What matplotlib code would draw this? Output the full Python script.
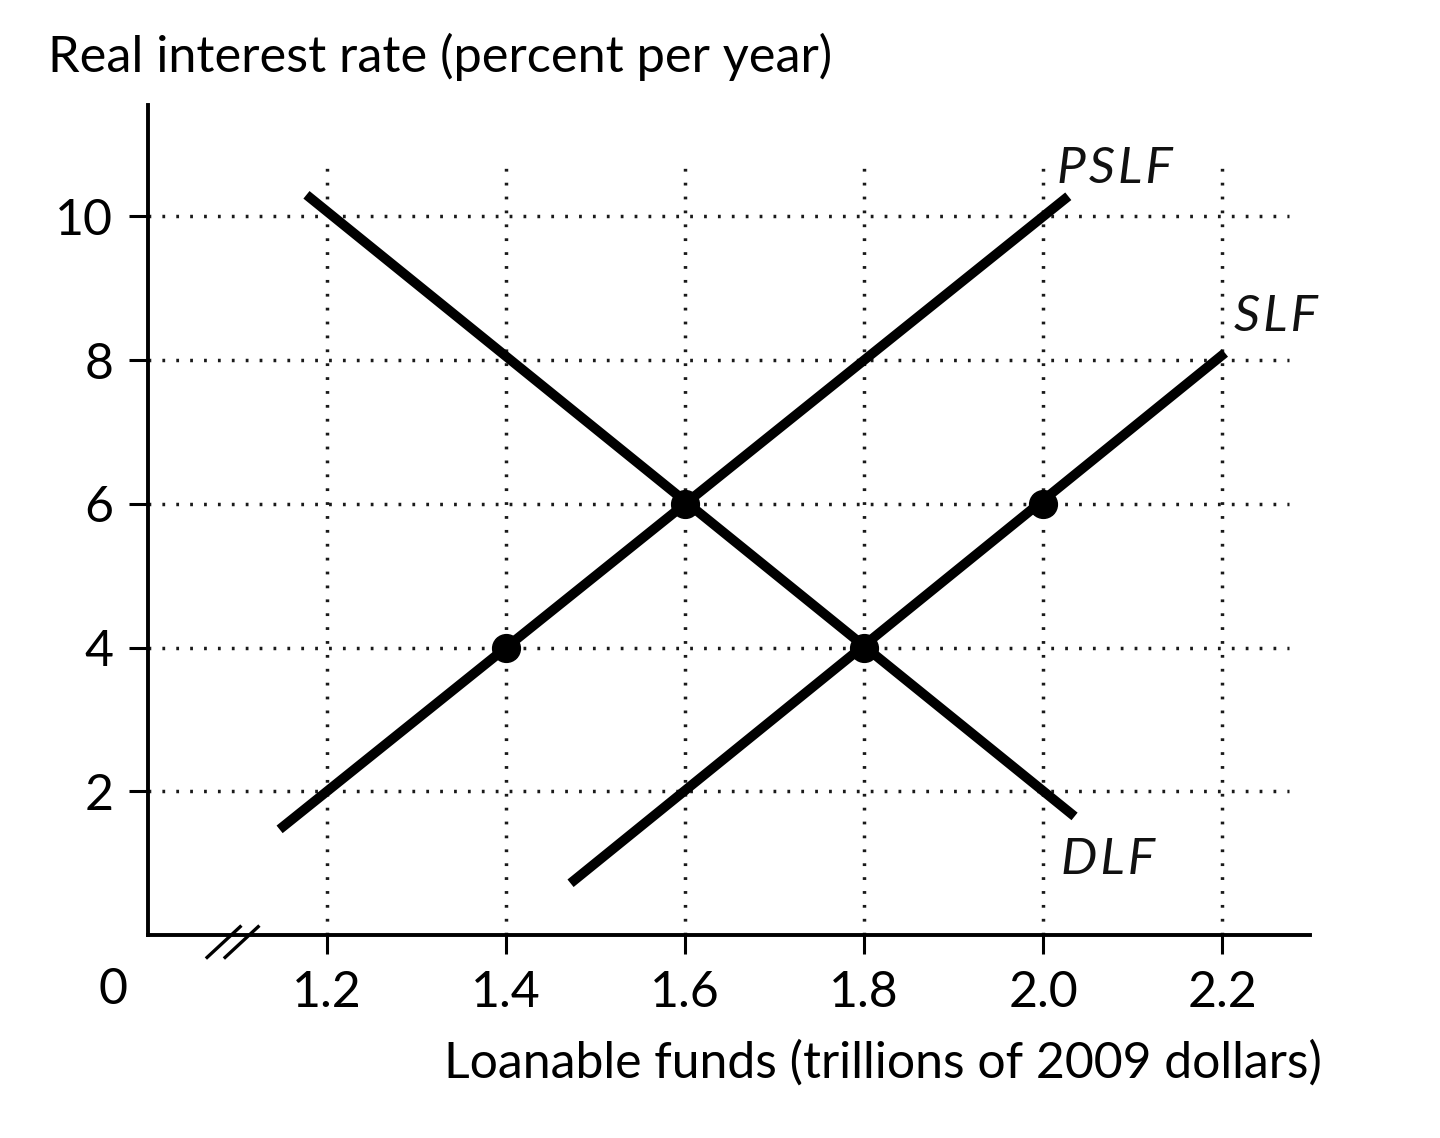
import matplotlib
matplotlib.use("Agg")
from matplotlib import pyplot as plt
from matplotlib import transforms
import numpy as np

plt.rcParams['font.family'] = ['Lato', 'DejaVu Sans']

# data
x_ticks = [1.2, 1.4, 1.6, 1.8, 2.0, 2.2]
x_ticklabels = ["1.2", "1.4", "1.6", "1.8", "2.0", "2.2"]
y_ticks = [2, 4, 6, 8, 10]
y_ticklabels = ["2", "4", "6", "8", "10"]

dlf_x = [1.177, 2.035]
dlf_y = [10.3, 1.65]
pslf_x = [1.147, 2.028]
pslf_y = [1.47, 10.28]
slf_x = [1.472, 2.203]
slf_y = [0.72, 8.1]

pts_x = [1.4, 1.6, 1.8, 2.0]
pts_y = [4, 6, 4, 6]

fig = plt.figure(figsize=(14.4, 11.38), dpi=100)
ax = fig.add_axes([148/1440, 203/1138, 1162/1440, 830/1138])
ax.set_xlim(1.0, 2.298)
ax.set_ylim(0, 11.55)

# dotted grid
dot = (0, (0.8, 3.2))
ax.hlines(y_ticks, 1.0, 2.275, colors="#1a1a1a", linewidth=2.5, linestyles=dot, zorder=1)
ax.vlines(x_ticks, 0, 10.7, colors="#1a1a1a", linewidth=2.5, linestyles=dot, zorder=1)

# curves
for xs, ys in [(dlf_x, dlf_y), (pslf_x, pslf_y), (slf_x, slf_y)]:
    ax.plot(xs, ys, color="black", linewidth=7, solid_capstyle="butt", zorder=3)
ax.plot(pts_x, pts_y, "o", color="black", markersize=20, zorder=4)

lab = dict(fontsize=37, style="italic", color="#111111")
hs = "\u200a"
ax.text(2.015, 10.66, hs.join("PSLF"), va="center", ha="left", **lab)
ax.text(2.213, 8.6, hs.join("SLF"), va="center", ha="left", **lab)
ax.text(2.02, 1.05, hs.join("DLF"), va="center", ha="left", **lab)

# axes styling
ax.spines[['right', 'top']].set_visible(False)
ax.spines[['left', 'bottom']].set_linewidth(2.8)
ax.set_xticks(x_ticks, x_ticklabels)
ax.set_yticks(y_ticks, y_ticklabels)
ax.tick_params(direction="out", length=14, width=2.2, labelsize=36, pad=11)

ax.text(-0.03, -0.066, "0", transform=ax.transAxes, fontsize=36, ha="center", va="center")

# axis break marks
for dx in (0, 18):
    t = transforms.blended_transform_factory(ax.transData, ax.transAxes)
    t = t + transforms.ScaledTranslation(dx/100, 0, fig.dpi_scale_trans)
    ax.plot([1.066, 1.103], [-0.027, 0.01], transform=t, color="black",
            linewidth=2.4, clip_on=False, zorder=5)

fig.text(48/1440, 1 - 57/1138, "Real interest rate (percent per year)",
         fontsize=36.4, ha="left", va="center")
fig.text(1322/1440, 1 - 1063/1138, "Loanable funds (trillions of 2009 dollars)",
         fontsize=35.9, ha="right", va="center")

fig.savefig("out.png", dpi=100)
